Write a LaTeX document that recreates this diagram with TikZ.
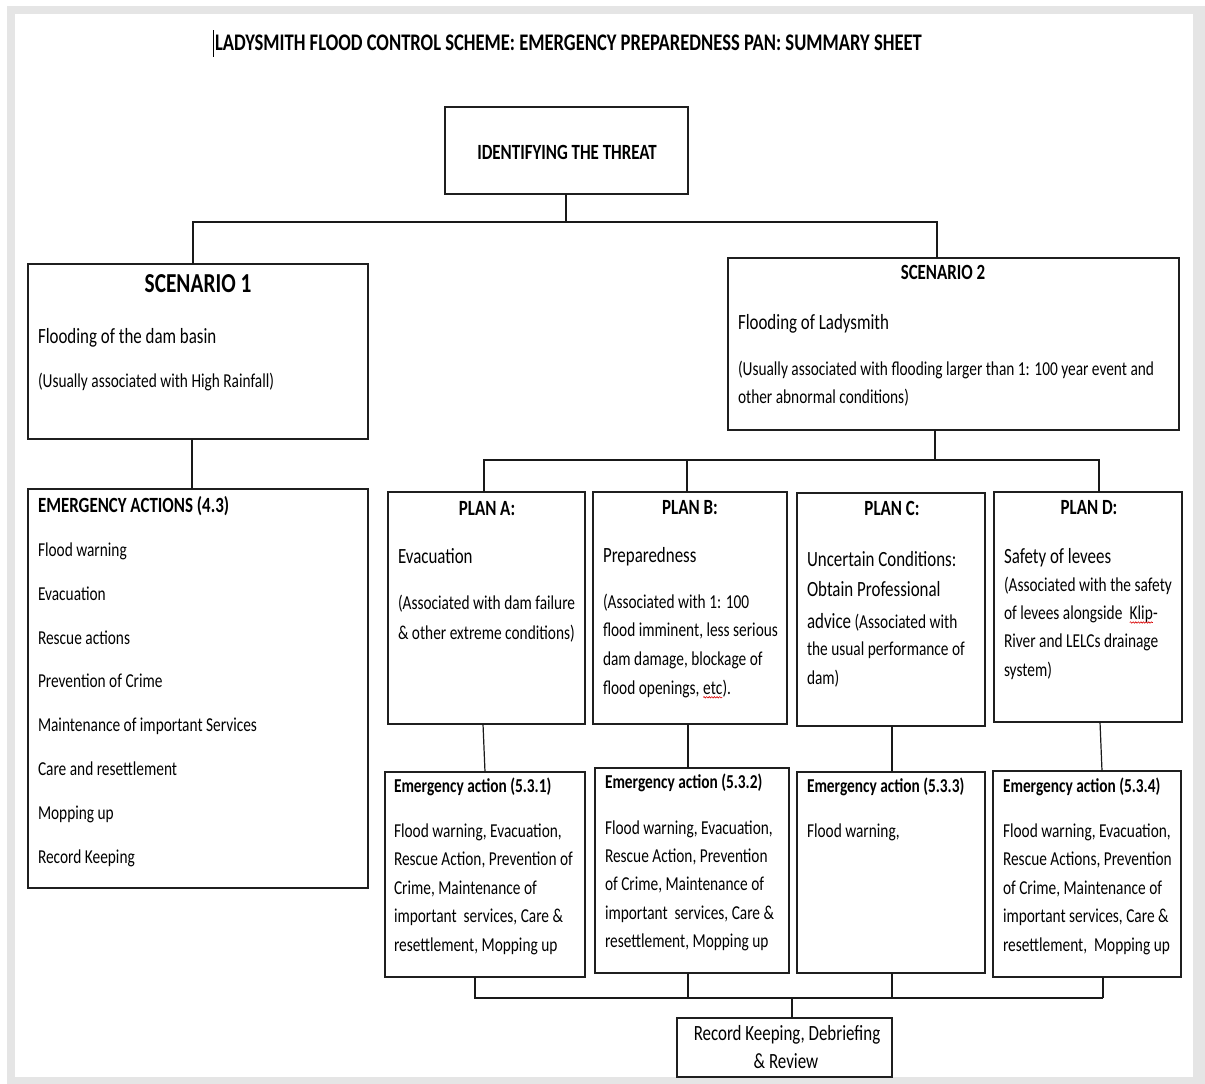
\documentclass[tikz,border=0pt]{standalone}
\usepackage{fontspec}
\setmainfont{Carlito}[FakeStretch=0.78]
\usetikzlibrary{decorations.pathmorphing}
\newcommand\fbody{\fontsize{19.7}{24}\selectfont}
\newcommand\flarge{\fontsize{21.7}{26}\selectfont}
\newcommand\fsone{\fontsize{27.4}{32}\selectfont}
\newcommand\ftitle{\fontsize{23.8}{28}\selectfont}
\newcommand\wavy[1]{\tikz[baseline=(wv.base)]{\node[inner sep=0pt,outer sep=0pt](wv){#1};\draw[red!85!black,line width=0.6pt,decorate,decoration={snake,amplitude=0.7pt,segment length=2.6pt}] ([yshift=-3pt]wv.base west) -- ([yshift=-3pt]wv.base east);}}
\tikzset{
 boxst/.style={draw=black!88, line width=1.4pt, inner sep=0pt, outer sep=0pt, rectangle},
 conn/.style={draw=black!90, line width=1.2pt},
 tb/.style={inner sep=0pt, outer sep=0pt, anchor=base west, font=\fbody, text=black},
 tl/.style={tb, font=\flarge},
 hb/.style={tb, font=\fbody\bfseries},
 hl/.style={tb, font=\flarge\bfseries},
}
\newcommand\bx[5]{\node[boxst, minimum width={#4-#2}, minimum height={#5-#3}] (#1) at ({(#2+#4)/2},{(#3+#5)/2}) {};}
\newcommand\tlines[6]{\foreach \myl [count=\myi] in {#6} {\node[#1] (#2\myi) at (#3,{#4+(\myi-1)*(#5)}) {\myl};}}
\begin{document}
\begin{tikzpicture}[x=1pt,y=-1pt]
\useasboundingbox (0,0) rectangle (1205,1084);
\fill[white] (0,0) rectangle (1205,1084);
\fill[gray!20] (7,6) rectangle (1205,1084);
\fill[white] (15,14) rectangle (1193,1077);

% title
\node[tb, font=\ftitle\bfseries] (title) at (215,50.5) {LADYSMITH FLOOD CONTROL SCHEME: EMERGENCY PREPAREDNESS PAN: SUMMARY SHEET};
\draw[line width=0.9pt] (213,30) -- (213,57);

% boxes
\bx{ident}{445}{107}{688}{194}
\bx{s1}{28}{264}{368}{439}
\bx{ea43}{28}{489}{368}{888}
\bx{s2}{728}{258}{1179}{430}
\bx{pa}{388}{492}{585}{724}
\bx{pb}{593}{492}{787}{724}
\bx{pc}{797}{493}{985}{726}
\bx{pd}{994}{492}{1182}{722}
\bx{eaa}{385}{772}{585}{977}
\bx{eab}{595}{768}{789}{973}
\bx{eac}{797}{772}{985}{973}
\bx{ead}{993}{771}{1181}{977}
\bx{rec}{677}{1018}{892}{1077}

% identify
\node[hl, anchor=base] (identt) at (567,159) {IDENTIFYING THE THREAT};

% scenario 1
\node[tb, font=\fsone\bfseries, anchor=base] (s1h) at (198,292.6) {SCENARIO 1};
\node[tl] (s1a) at (38,343) {Flooding of the dam basin};
\node[tb] (s1b) at (38,387) {(Usually associated with High Rainfall)};

% emergency actions 4.3
\node[hl] (ea43h) at (38,512) {EMERGENCY ACTIONS (4.3)};
\tlines{tb}{ea43i}{38}{556.2}{43.9}{Flood warning,Evacuation,Rescue actions,Prevention of Crime,Maintenance of important Services,Care and resettlement,Mopping up,Record Keeping}

% scenario 2
\node[hl, anchor=base] (s2h) at (943,279) {SCENARIO 2};
\node[tl] (s2a) at (738,329) {Flooding of Ladysmith};
\tlines{tb}{s2b}{738}{375.2}{28}{{(Usually associated with flooding larger than 1: 100 year event and},{other abnormal conditions)}}

% plan A
\node[hl, anchor=base] (pah) at (487,515) {PLAN A:};
\node[tl] (paa) at (398,563) {Evacuation};
\tlines{tb}{pab}{398}{609.2}{30}{{(Associated with dam failure},{\& other extreme conditions)}}

% plan B
\node[hl, anchor=base] (pbh) at (690,514) {PLAN B:};
\node[tl] (pba) at (603,562) {Preparedness};
\tlines{tb}{pbb}{603}{608.2}{28.7}{{(Associated with 1: 100},{flood imminent, less serious},{dam damage, blockage of},{flood openings, \wavy{etc}).}}

% plan C
\node[hl, anchor=base] (pch) at (892,515) {PLAN C:};
\tlines{tl}{pca}{807}{566}{30}{{Uncertain Conditions:},{Obtain Professional}}
\node[tb] (pcb) at (807,628) {{\flarge advice} (Associated with};
\tlines{tb}{pcc}{807}{655.5}{28.8}{{the usual performance of},{dam)}}

% plan D
\node[hl, anchor=base] (pdh) at (1089,514) {PLAN D:};
\node[tl] (pda) at (1004,563) {Safety of levees};
\tlines{tb}{pdb}{1004}{591.2}{28.3}{{(Associated with the safety},{of levees alongside\ \ \wavy{Klip}-},{River and LELCs drainage},{system)}}

% emergency action boxes
\node[hb] (eaah) at (394,792.2) {Emergency action (5.3.1)};
\tlines{tb}{eaab}{394}{837.2}{28.5}{{Flood warning, Evacuation,},{Rescue Action, Prevention of},{Crime, Maintenance of},{important\ \ services, Care \&},{resettlement, Mopping up}}

\node[hb] (eabh) at (605,788.2) {Emergency action (5.3.2)};
\tlines{tb}{eabb}{605}{834.2}{28.3}{{Flood warning, Evacuation,},{Rescue Action, Prevention},{of Crime, Maintenance of},{important\ \ services, Care \&},{resettlement, Mopping up}}

\node[hb] (each) at (807,792.2) {Emergency action (5.3.3)};
\node[tb] (eacb) at (807,837.2) {Flood warning,};

\node[hb] (eadh) at (1003,792.2) {Emergency action (5.3.4)};
\tlines{tb}{eadb}{1003}{837.2}{28.5}{{Flood warning, Evacuation,},{Rescue Actions, Prevention},{of Crime, Maintenance of},{important services, Care \&},{resettlement,\ \ Mopping up}}

% record
\node[tl, anchor=base] (rect1) at (787,1040) {Record Keeping, Debriefing};
\node[tl, anchor=base] (rect2) at (786,1068) {\& Review};

% connectors
\coordinate (j1) at (566,222);
\coordinate (j1l) at (193,222);
\coordinate (j1r) at (937,222);
\draw[conn] (ident.south -| j1) -- (j1);
\draw[conn] (s1.north -| j1l) |- (j1r) -- (s2.north -| j1r);

\coordinate (j2) at (192,460);
\draw[conn] (s1.south -| j2) -- (ea43.north -| j2);

\coordinate (j3s) at (935,460);
\coordinate (j3l) at (484,460);
\coordinate (j3b) at (687,460);
\coordinate (j3r) at (1099,460);
\draw[conn] (s2.south -| j3s) -- (j3s);
\draw[conn] (pa.north -| j3l) |- (j3r) -- (pd.north -| j3r);
\draw[conn] (j3b) -- (pb.north -| j3b);

\coordinate (ka1) at (483,0); \coordinate (ka2) at (485,0);
\coordinate (kb) at (688,0); \coordinate (kc) at (892,0);
\coordinate (kd1) at (1100,0); \coordinate (kd2) at (1102,0);
\draw[conn] (pa.south -| ka1) -- (eaa.north -| ka2);
\draw[conn] (pb.south -| kb) -- (eab.north -| kb);
\draw[conn] (pc.south -| kc) -- (eac.north -| kc);
\draw[conn] (pd.south -| kd1) -- (ead.north -| kd2);

\coordinate (m1) at (475,998);
\coordinate (m2) at (688,998);
\coordinate (m3) at (892,998);
\coordinate (m4) at (1103,998);
\coordinate (mr) at (792,998);
\draw[conn] (eaa.south -| m1) |- (m4);
\draw[conn] (ead.south -| m4) -- (m4);
\draw[conn] (eab.south -| m2) -- (m2);
\draw[conn] (eac.south -| m3) -- (m3);
\draw[conn] (mr) -- (rec.north -| mr);
\end{tikzpicture}
\end{document}
